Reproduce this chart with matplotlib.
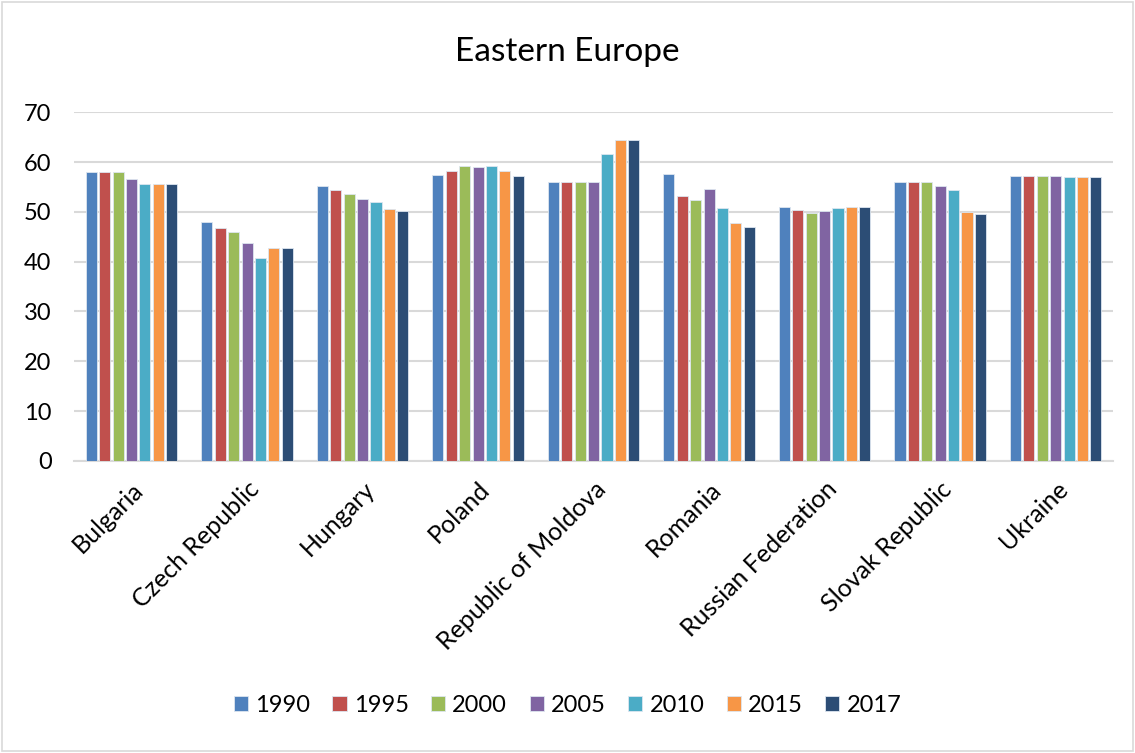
import numpy as np
from matplotlib import pyplot as plt
from matplotlib.patches import Rectangle

countries = ["Bulgaria", "Czech Republic", "Hungary", "Poland", "Republic of Moldova",
             "Romania", "Russian Federation", "Slovak Republic", "Ukraine"]
years = ["1990", "1995", "2000", "2005", "2010", "2015", "2017"]

v1990 = [57.9, 48.0, 55.1, 57.3, 55.9, 57.6, 50.9, 55.9, 57.2]
v1995 = [57.9, 46.7, 54.3, 58.1, 55.9, 53.1, 50.3, 55.9, 57.2]
v2000 = [57.9, 45.9, 53.5, 59.1, 55.9, 52.4, 49.7, 55.9, 57.1]
v2005 = [56.5, 43.8, 52.5, 58.9, 55.9, 54.5, 50.2, 55.1, 57.1]
v2010 = [55.6, 40.7, 51.9, 59.1, 61.6, 50.7, 50.7, 54.3, 56.9]
v2015 = [55.6, 42.7, 50.5, 58.1, 64.5, 47.7, 50.9, 49.9, 56.9]
v2017 = [55.6, 42.7, 50.1, 57.2, 64.5, 46.9, 50.9, 49.5, 56.9]

colors = ["#4F81BD", "#C0504D", "#9BBB59", "#8064A2", "#4BACC6", "#F79646", "#2C4D75"]

series = [v1990, v1995, v2000, v2005, v2010, v2015, v2017]

plt.rcParams['font.family'] = ['Lato', 'DejaVu Sans']

fig = plt.figure(figsize=(11.35, 7.53), dpi=100)
ax = fig.add_axes([0.065, 0.388, 0.916, 0.463])

x = np.arange(len(countries))
pitch = 0.116
width = 0.096
for i, (vals, c) in enumerate(zip(series, colors)):
    offs = (i - 3) * pitch
    ax.bar(x + offs, vals, width, color=c, edgecolor="#dde6f0", linewidth=0.6,
           label=years[i], zorder=3)

ax.set_xlim(-0.5, len(countries) - 0.5)
ax.set_ylim(0, 70)
ax.set_yticks(range(0, 71, 10))
ax.yaxis.grid(True, color="#D9D9D9", linewidth=1.5, zorder=0)
ax.set_axisbelow(True)
for s in ["left", "right", "top"]:
    ax.spines[s].set_visible(False)
ax.spines["bottom"].set_color("#D9D9D9")
ax.spines["bottom"].set_linewidth(1.5)
ax.tick_params(axis="both", length=0, labelsize=17, colors="black")
ax.tick_params(axis="y", pad=16)
ax.set_xticks(x)
ax.set_xticklabels(countries, rotation=45, ha="right", rotation_mode="anchor",
                   fontsize=18)
ax.tick_params(axis="x", pad=12)

fig.text(0.5, 0.931, "Eastern Europe", fontsize=24, ha="center", va="center")

fig.legend(loc="center", bbox_to_anchor=(0.5, 0.063), ncol=7, frameon=False,
           fontsize=17, handlelength=0.6, handleheight=0.6, handletextpad=0.3,
           columnspacing=0.95)

# light border around the whole chart
fig.patches.append(Rectangle((0.002, 0.002), 0.996, 0.996, transform=fig.transFigure,
                             fill=False, edgecolor="#D9D9D9", linewidth=1.2))

fig.savefig("out.png", dpi=100)
